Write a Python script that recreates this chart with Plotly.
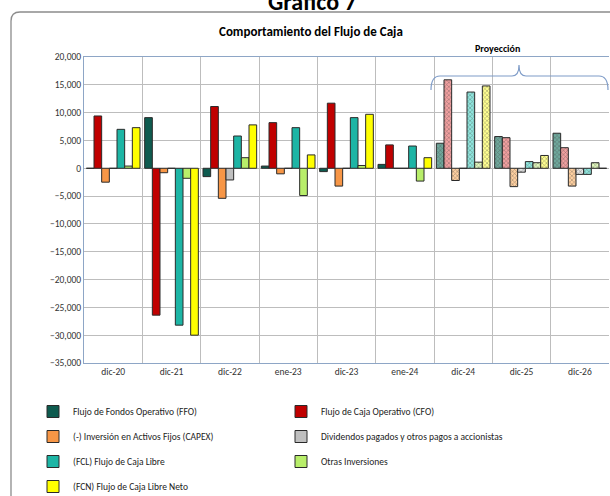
import plotly.graph_objects as go

categories = ["dic-20", "dic-21", "dic-22", "ene-23", "dic-23", "ene-24", "dic-24", "dic-25", "dic-26"]
ffo = [0, 9100, -1500, 400, -600, 700, 4500, 5700, 6300]
cfo = [9400, -26400, 11100, 8200, 11700, 4200, 15900, 5500, 3700]
capex = [-2500, -800, -5400, -1000, -3200, 0, -2200, -3300, -3200]
dividendos = [0, 0, -2100, 0, 0, 0, 0, -700, -1100]
fcl = [7000, -28200, 5800, 7300, 9100, 4000, 13700, 1200, -1100]
otras = [400, -1800, 1900, -4900, 500, -2300, 1100, 1000, 1000]
fcn = [7300, -30000, 7800, 2400, 9700, 1900, 14800, 2300, 0]
n_proj = 3  # last three periods are projections

FONT = "Carlito, Lato, 'Open Sans', sans-serif"

series = [
    ("Flujo de Fondos Operativo (FFO)", ffo, "#0E5B4F", "#6FA89C", "#1E6B5F", "legend"),
    ("Flujo de Caja Operativo (CFO)", cfo, "#C00000", "#F2A0A0", "#D04040", "legend2"),
    ("(-) Inversión en Activos Fijos (CAPEX)", capex, "#F79646", "#FFD0A0", "#F0A060", "legend"),
    ("Dividendos pagados y otros pagos a accionistas", dividendos, "#BFBFBF", "#E6E6E6", "#BBBBBB", "legend2"),
    ("(FCL) Flujo de Caja Libre", fcl, "#1DB5A5", "#8FE6DE", "#30B8AA", "legend"),
    ("Otras Inversiones", otras, "#B8EE6A", "#E2F9BE", "#A8D870", "legend2"),
    ("(FCN) Flujo de Caja Libre Neto", fcn, "#FFFF00", "#FFFF90", "#E0D040", "legend"),
]

fig = go.Figure()
n = len(categories)
for i, (name, vals, col, lcol, fcol, lg) in enumerate(series):
    colors = [col] * (n - n_proj) + [lcol] * n_proj
    shapes = [""] * (n - n_proj) + ["x"] * n_proj
    fig.add_trace(go.Bar(
        name=name, x=categories, y=vals, legend=lg, legendgroup=name,
        marker=dict(
            color=colors,
            line=dict(color="#2a2a2a", width=1),
            pattern=dict(shape=shapes, fgcolor=[fcol] * n, bgcolor=colors,
                         size=3, solidity=0.35),
        ),
        hoverinfo="skip",
    ))

W, H = 610, 496
L, R, T, B = 84, 609, 57, 363


def px(x):
    return (x - L) / (R - L)


def py(y):
    return (B - y) / (B - T)


shapes = [
    # outer rounded frame
    dict(type="path", xref="paper", yref="paper",
         path=f"M {px(11)},{py(500)} L {px(11)},{py(21)} Q {px(11)},{py(12)} {px(20)},{py(12)} L {px(615)},{py(12)}",
         line=dict(color="#8C8C8C", width=1.3)),
    # projection brace
    dict(type="path", xref="paper", yref="paper",
         path=(f"M {px(431)},{py(90)} Q {px(431)},{py(76)} {px(440)},{py(76)} "
               f"L {px(512)},{py(76)} Q {px(519)},{py(76)} {px(519)},{py(65)} "
               f"Q {px(519)},{py(76)} {px(526)},{py(76)} L {px(599)},{py(76)} "
               f"Q {px(608)},{py(76)} {px(608)},{py(90)}"),
         line=dict(color="#7F9CC8", width=1.2)),
]

annotations = [
    dict(text="<b>Gráfico 7</b>", x=px(312), y=py(2), xref="paper", yref="paper",
         showarrow=False, font=dict(size=24, family=FONT, color="#000000"), yanchor="middle"),
    dict(text="<b>Comportamiento del Flujo de Caja</b>", x=px(311), y=py(31), xref="paper", yref="paper",
         showarrow=False, font=dict(size=13, family=FONT, color="#000000"), yanchor="middle"),
    dict(text="<b>Proyección</b>", x=px(522), y=py(48), xref="paper", yref="paper",
         showarrow=False, font=dict(size=10, family=FONT, color="#000000"), yanchor="middle"),
]

legend_common = dict(
    orientation="v", xref="container", yref="container", yanchor="top", xanchor="left",
    font=dict(size=9.5, family=FONT, color="#222222"), bgcolor="rgba(0,0,0,0)",
    tracegroupgap=6, itemwidth=30, traceorder="grouped",
)

fig.update_layout(
    width=W, height=H,
    margin=dict(l=L, r=W - R, t=T, b=H - B, autoexpand=False),
    paper_bgcolor="white", plot_bgcolor="white",
    barmode="group", bargap=0.08, bargroupgap=0,
    font=dict(family=FONT, size=9.5, color="#333333"),
    showlegend=True,
    legend=dict(x=33 / W, y=1 - 397 / H, **legend_common),
    legend2=dict(x=281 / W, y=1 - 397 / H, **legend_common),
    shapes=shapes, annotations=annotations,
    xaxis=dict(type="category", tickson="boundaries", showgrid=True, gridcolor="#BDBDBD",
               gridwidth=1, ticks="", showline=True, linecolor="#8EA6C6", mirror=True,
               tickangle=0, automargin=False,
               tickfont=dict(size=9.5, family=FONT, color="#333333")),
    yaxis=dict(range=[-35000, 20000], dtick=5000, tickformat=",", showgrid=True,
               gridcolor="#BDBDBD", gridwidth=1, zeroline=True, zerolinecolor="#BDBDBD",
               zerolinewidth=1, showline=True, linecolor="#8EA6C6", ticks="", automargin=False,
               tickfont=dict(size=9.5, family=FONT, color="#333333")),
)

fig.write_html("out.html", config={"displayModeBar": False},
               post_script="document.body.style.margin='0';")
